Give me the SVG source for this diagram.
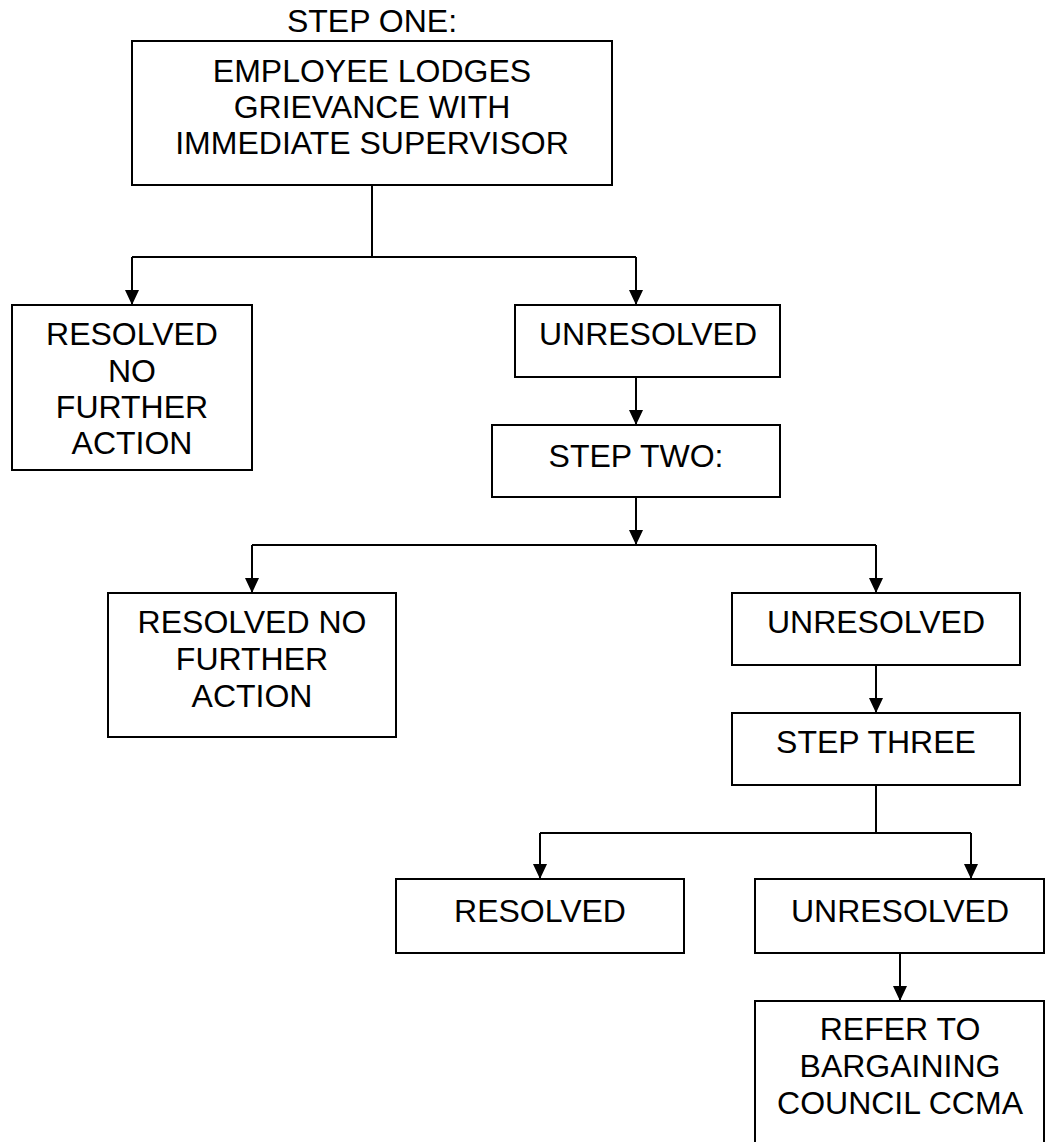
<svg xmlns="http://www.w3.org/2000/svg" width="1050" height="1142" viewBox="0 0 1050 1142">
<defs>
<style>
.box{fill:#fff;stroke:#000;stroke-width:2}
.t{font-family:"Liberation Sans",Arial,sans-serif;font-size:32px;fill:#000;text-anchor:middle}
.c{fill:none;stroke:#000;stroke-width:2}
.a{marker-end:url(#ah)}
</style>
<marker id="ah" viewBox="0 0 15 14" refX="15" refY="7" markerWidth="15" markerHeight="14" markerUnits="userSpaceOnUse" orient="auto">
<path d="M0,0 L15,7 L0,14 z" fill="#000"/>
</marker>
</defs>
<rect width="1050" height="1142" fill="#fff"/>
<g id="connectors">
<path class="c" d="M372,185 V257 M132,257 H636"/>
<path class="c a" d="M132,257 V305"/>
<path class="c a" d="M636,257 V305"/>
<path class="c a" d="M636,377 V425"/>
<path class="c a" d="M636,497 V545"/>
<path class="c" d="M252,545 H876"/>
<path class="c a" d="M252,545 V593"/>
<path class="c a" d="M876,545 V593"/>
<path class="c a" d="M876,665 V713"/>
<path class="c" d="M876,785 V833 M540,833 H971"/>
<path class="c a" d="M540,833 V879"/>
<path class="c a" d="M971,833 V879"/>
<path class="c a" d="M900,953 V1001"/>
</g>
<g id="label-step-one"><text class="t" x="372" y="32">STEP ONE:</text></g>
<g id="n-employee">
<rect class="box" x="132" y="41" width="480" height="144"/>
<text class="t" x="372" y="82">EMPLOYEE LODGES</text>
<text class="t" x="372" y="118">GRIEVANCE WITH</text>
<text class="t" x="372" y="154">IMMEDIATE SUPERVISOR</text>
</g>
<g id="n-resolved1">
<rect class="box" x="12" y="305" width="240" height="165"/>
<text class="t" x="132" y="345">RESOLVED</text>
<text class="t" x="132" y="382">NO</text>
<text class="t" x="132" y="418">FURTHER</text>
<text class="t" x="132" y="454">ACTION</text>
</g>
<g id="n-unresolved1">
<rect class="box" x="515" y="305" width="265" height="72"/>
<text class="t" x="648" y="345">UNRESOLVED</text>
</g>
<g id="n-step-two">
<rect class="box" x="492" y="425" width="288" height="72"/>
<text class="t" x="636" y="467">STEP TWO:</text>
</g>
<g id="n-resolved2">
<rect class="box" x="108" y="593" width="288" height="144"/>
<text class="t" x="252" y="633">RESOLVED NO</text>
<text class="t" x="252" y="670">FURTHER</text>
<text class="t" x="252" y="707">ACTION</text>
</g>
<g id="n-unresolved2">
<rect class="box" x="732" y="593" width="288" height="72"/>
<text class="t" x="876" y="633">UNRESOLVED</text>
</g>
<g id="n-step-three">
<rect class="box" x="732" y="713" width="288" height="72"/>
<text class="t" x="876" y="753">STEP THREE</text>
</g>
<g id="n-resolved3">
<rect class="box" x="396" y="879" width="288" height="74"/>
<text class="t" x="540" y="922">RESOLVED</text>
</g>
<g id="n-unresolved3">
<rect class="box" x="755" y="879" width="289" height="74"/>
<text class="t" x="900" y="922">UNRESOLVED</text>
</g>
<g id="n-refer">
<rect class="box" x="755" y="1001" width="289" height="170"/>
<text class="t" x="900" y="1040">REFER TO</text>
<text class="t" x="900" y="1077">BARGAINING</text>
<text class="t" x="900" y="1114">COUNCIL CCMA</text>
</g>
</svg>
